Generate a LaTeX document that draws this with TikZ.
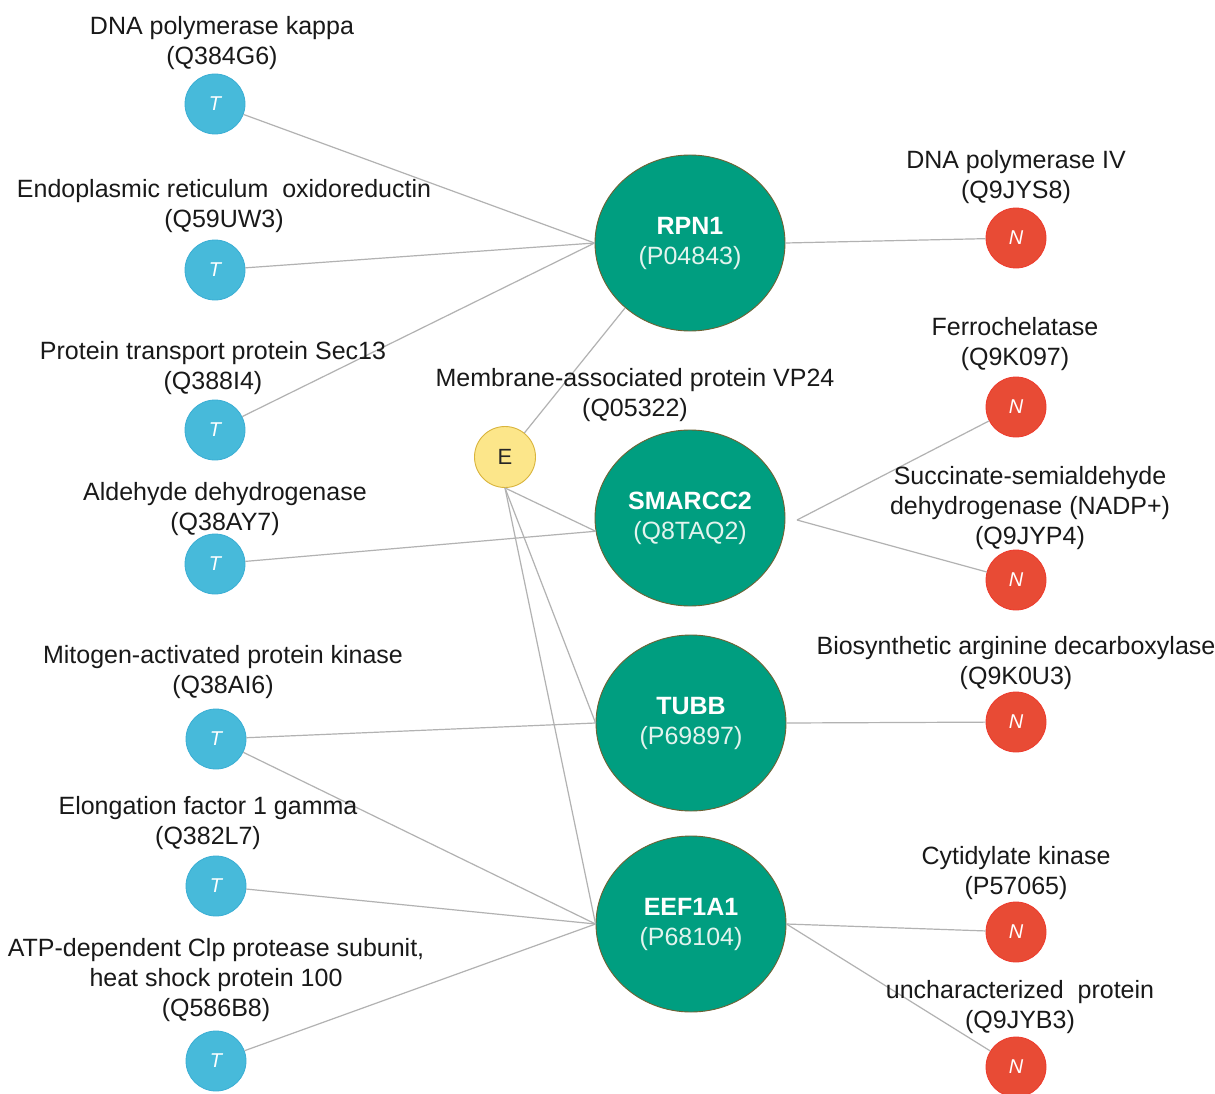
\documentclass[tikz,border=0pt]{standalone}
\usepackage{fontspec}
\setmainfont{Liberation Sans}
\usetikzlibrary{shapes.geometric}
\definecolor{tblue}{HTML}{47BADA}
\definecolor{tblueB}{HTML}{3AAED4}
\definecolor{nred}{HTML}{E84B35}
\definecolor{nredB}{HTML}{EE3A2C}
\definecolor{bgreen}{HTML}{009E80}
\definecolor{bgreenB}{HTML}{6E6234}
\definecolor{eyel}{HTML}{FCE68A}
\definecolor{eyelB}{HTML}{D9B43C}
\definecolor{edgegray}{HTML}{B2B2B2}
\definecolor{subwhite}{HTML}{E2F4EE}
\tikzset{
  lbl/.style={font=\fontsize{25}{30}\selectfont, align=center, inner sep=0pt, text=black!90},
  tnode/.style={circle, fill=tblue, draw=tblueB, line width=0.8pt, minimum size=60pt, inner sep=0pt, text=white, font=\fontsize{20}{20}\selectfont\itshape},
  nnode/.style={circle, fill=nred, draw=nredB, line width=0.8pt, minimum size=60pt, inner sep=0pt, text=white, font=\fontsize{20}{20}\selectfont\itshape},
  enode/.style={circle, fill=eyel, draw=eyelB, line width=0.9pt, minimum size=61pt, inner sep=0pt, text=black!85, font=\fontsize{22}{22}\selectfont},
  bignode/.style={ellipse, fill=bgreen, draw=bgreenB, line width=0.9pt, minimum width=190pt, minimum height=176pt, inner sep=0pt, text=white, align=center, font=\fontsize{25}{30}\selectfont},
  conn/.style={draw=edgegray, line width=1.2pt}
}
\begin{document}
\begin{tikzpicture}[x=1pt,y=-1pt]
\useasboundingbox (0,0) rectangle (1215,1094);
\fill[white] (0,0) rectangle (1215,1094);

% big nodes
\node[bignode] (RPN1) at (690,243) {\textbf{RPN1}\\\textcolor{subwhite}{(P04843)}};
\node[bignode] (SMARCC2) at (690,518) {\textbf{SMARCC2}\\\textcolor{subwhite}{(Q8TAQ2)}};
\node[bignode] (TUBB) at (691,723) {\textbf{TUBB}\\\textcolor{subwhite}{(P69897)}};
\node[bignode] (EEF1A1) at (691,924) {\textbf{EEF1A1}\\\textcolor{subwhite}{(P68104)}};

% E node
\node[enode] (E) at (505,457) {E};

% T nodes
\node[tnode] (T1) at (215,104) {T};
\node[tnode] (T2) at (215,270) {T};
\node[tnode] (T3) at (215,430) {T};
\node[tnode] (T4) at (215,564) {T};
\node[tnode] (T5) at (216,739) {T};
\node[tnode] (T6) at (216,886) {T};
\node[tnode] (T7) at (216,1061) {T};

% N nodes
\node[nnode] (N1) at (1016,238) {N};
\node[nnode] (N2) at (1016,407) {N};
\node[nnode] (N3) at (1016,580) {N};
\node[nnode] (N4) at (1016,722) {N};
\node[nnode] (N5) at (1016,932) {N};
\node[nnode] (N6) at (1016,1067) {N};

\coordinate (smR) at (797,520);

% connectors
\draw[conn] (T1) -- (RPN1.west);
\draw[conn] (T2) -- (RPN1.west);
\draw[conn] (T3) -- (RPN1.west);
\draw[conn] (RPN1.east) -- (N1);
\draw[conn] (E) -- (RPN1.225);
\draw[conn] (E.south) -- (SMARCC2.188);
\draw[conn] (E.south) -- (TUBB.west);
\draw[conn] (E.south) -- (EEF1A1.west);
\draw[conn] (T4) -- (SMARCC2.188);
\draw[conn] (smR) -- (N2);
\draw[conn] (smR) -- (N3);
\draw[conn] (T5) -- (TUBB.west);
\draw[conn] (TUBB.east) -- (N4);
\draw[conn] (T5) -- (EEF1A1.west);
\draw[conn] (T6) -- (EEF1A1.west);
\draw[conn] (T7) -- (EEF1A1.west);
\draw[conn] (EEF1A1.east) -- (N5);
\draw[conn] (EEF1A1.east) -- (N6);

% labels
\node[lbl] (L1) at (222,43) {DNA polymerase kappa\\(Q384G6)};
\node[lbl] (L2) at (224,206) {Endoplasmic reticulum\ \ oxidoreductin\\(Q59UW3)};
\node[lbl] (L3) at (213,368) {Protein transport protein Sec13\\(Q388I4)};
\node[lbl] (L4) at (225,509) {Aldehyde dehydrogenase\\(Q38AY7)};
\node[lbl] (L5) at (223,672) {Mitogen-activated protein kinase\\(Q38AI6)};
\node[lbl] (L6) at (208,823) {Elongation factor 1 gamma\\(Q382L7)};
\node[lbl] (L7) at (216,980) {ATP-dependent Clp protease subunit,\\heat shock protein 100\\(Q586B8)};
\node[lbl] (LE) at (635,395) {Membrane-associated protein VP24\\(Q05322)};
\node[lbl] (M1) at (1016,177) {DNA polymerase IV\\(Q9JYS8)};
\node[lbl] (M2) at (1015,344) {Ferrochelatase\\(Q9K097)};
\node[lbl] (M3) at (1030,508) {Succinate-semialdehyde\\dehydrogenase (NADP+)\\(Q9JYP4)};
\node[lbl] (M4) at (1016,663) {Biosynthetic arginine decarboxylase\\(Q9K0U3)};
\node[lbl] (M5) at (1016,873) {Cytidylate kinase\\(P57065)};
\node[lbl] (M6) at (1020,1007) {uncharacterized\ \ protein\\(Q9JYB3)};
\end{tikzpicture}
\end{document}
